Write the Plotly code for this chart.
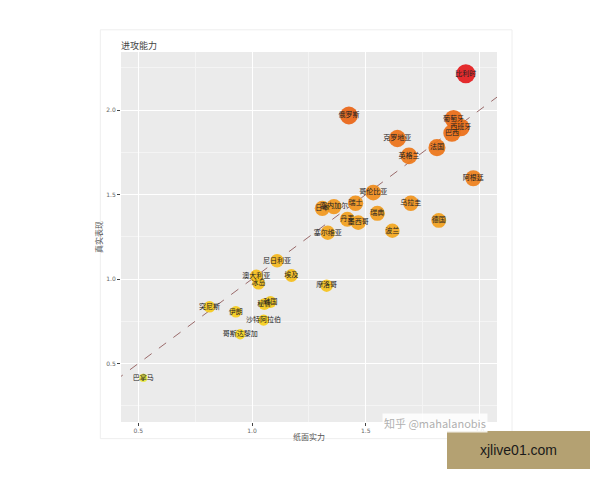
import numpy as np
import plotly.graph_objects as go

# 球队、纸面实力(x)、真实表现(y)
teams = ["比利时", "俄罗斯", "葡萄牙", "西班牙", "巴西", "克罗地亚", "法国", "英格兰",
         "阿根廷", "哥伦比亚", "瑞士", "日本", "塞内加尔", "乌拉圭", "瑞典", "丹麦",
         "墨西哥", "德国", "波兰", "塞尔维亚", "尼日利亚", "澳大利亚", "冰岛", "埃及",
         "摩洛哥", "突尼斯", "韩国", "秘鲁", "伊朗", "沙特阿拉伯", "哥斯达黎加", "巴拿马"]
paper = [1.940, 1.426, 1.886, 1.918, 1.879, 1.639, 1.813, 1.690,
         1.973, 1.533, 1.455, 1.309, 1.360, 1.698, 1.551, 1.419,
         1.467, 1.821, 1.617, 1.333, 1.110, 1.019, 1.029, 1.173,
         1.328, 0.813, 1.081, 1.054, 0.929, 1.051, 0.948, 0.522]
real = [2.215, 1.968, 1.948, 1.897, 1.864, 1.832, 1.778, 1.729,
        1.597, 1.512, 1.449, 1.419, 1.429, 1.449, 1.389, 1.354,
        1.334, 1.347, 1.286, 1.274, 1.108, 1.018, 0.975, 1.021,
        0.961, 0.836, 0.864, 0.852, 0.806, 0.757, 0.674, 0.415]
ticks = [0.5, 1.0, 1.5, 2.0]

real_arr = np.array(real)
sizes = 19 * np.sqrt(real_arr / real_arr.max())

fig = go.Figure()

# 对角线 y = x
fig.add_trace(go.Scatter(
    x=[0.4, 2.1], y=[0.4, 2.1], mode="lines",
    line=dict(color="#9a6a6a", width=1, dash="dash"),
    hoverinfo="skip", showlegend=False
))

fig.add_trace(go.Scatter(
    x=paper, y=real, mode="markers+text", text=teams,
    textposition="middle center",
    textfont=dict(family="Noto Sans CJK SC", size=7, color="#222222"),
    marker=dict(
        size=sizes, color=real, cmin=0.4, cmax=2.2,
        colorscale=[[0, "#e6e83c"], [0.167, "#f7d21a"], [0.333, "#f5c01b"],
                    [0.528, "#f2a01c"], [0.667, "#ee7f1a"], [0.861, "#ea6a14"],
                    [1, "#e31a1c"]],
        opacity=0.92, line=dict(width=0)
    ),
    showlegend=False
))

axis_common = dict(
    tickvals=ticks, ticktext=["0.5", "1.0", "1.5", "2.0"],
    showgrid=True, gridcolor="white", gridwidth=1,
    minor=dict(showgrid=True, gridcolor="#f4f4f4", gridwidth=0.6, dtick=0.25),
    zeroline=False, ticks="outside", ticklen=3, tickcolor="#444",
    tickfont=dict(family="DejaVu Sans", size=6, color="#666"),
    showline=False
)

fig.update_xaxes(range=[0.424, 2.077], title=dict(text="纸面实力", standoff=1,
                 font=dict(family="Noto Sans CJK SC", size=8, color="#555")), **axis_common)
fig.update_yaxes(range=[0.154, 2.344], title=dict(text="真实表现", standoff=2,
                 font=dict(family="Noto Sans CJK SC", size=8, color="#555")), **axis_common)

fig.update_layout(
    width=600, height=480,
    margin=dict(l=121, r=103, t=52, b=58),
    plot_bgcolor="#ebebeb", paper_bgcolor="white",
    title=dict(text="进攻能力", x=121 / 600, xanchor="left", y=1 - 46 / 480, yanchor="middle",
               font=dict(family="Noto Sans CJK SC", size=9, color="#444")),
)

# 卡片边框
fig.add_shape(type="rect", xref="paper", yref="paper", x0=-0.055, x1=1.04, y0=-0.045, y1=1.06,
              line=dict(color="#eeeeee", width=1), layer="below")

# 水印
fig.add_annotation(text="知乎 @mahalanobis", xref="paper", yref="paper", x=0.835, y=0.024,
                   xanchor="center", yanchor="top", showarrow=False,
                   font=dict(family="Noto Sans CJK SC", size=11, color="#b0b0b0"),
                   bgcolor="rgba(255,255,255,0.85)")
fig.add_shape(type="rect", xref="paper", yref="paper",
              x0=(447 - 121) / 376, x1=(590 - 121) / 376,
              y0=(422 - 469) / 370, y1=(422 - 431) / 370,
              fillcolor="#b4a172", line=dict(width=0))
fig.add_annotation(text="xjlive01.com", xref="paper", yref="paper",
                   x=(518 - 121) / 376, y=(422 - 450) / 370, xanchor="center", yanchor="middle",
                   showarrow=False,
                   font=dict(family="Liberation Sans", size=14, color="#1a1a1a"))

fig.write_html("out.html", config={"displayModeBar": False},
               post_script="document.body.style.margin='0';")
